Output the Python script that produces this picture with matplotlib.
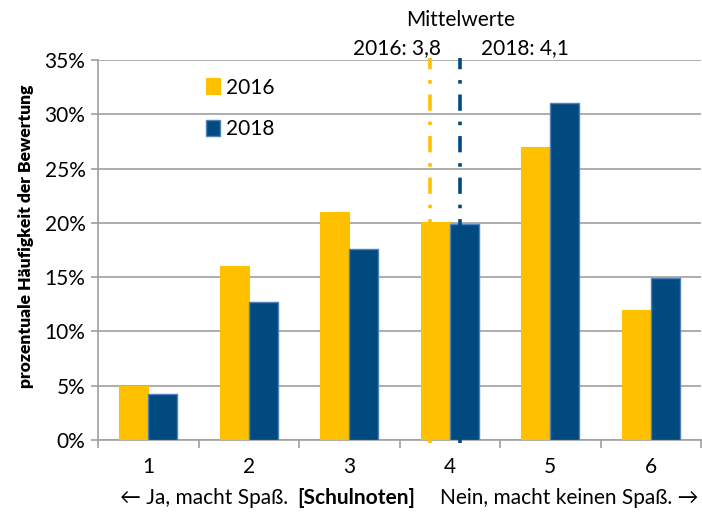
import numpy as np
import matplotlib
matplotlib.use("Agg")
import matplotlib.pyplot as plt

plt.rcParams['font.family'] = ['Lato', 'DejaVu Sans']

noten = [1, 2, 3, 4, 5, 6]
werte_2016 = [5.0, 16.0, 21.0, 20.1, 27.0, 12.0]
werte_2018 = [4.2, 12.7, 17.6, 19.9, 31.0, 14.9]
mittel_2016 = 3.8
mittel_2018 = 4.1
yticks = [0, 5, 10, 15, 20, 25, 30, 35]

gelb = '#FFC000'
blau = '#004A7F'
grau = '#A0A0A0'
fs = 15

fig = plt.figure(figsize=(7.02, 5.13), dpi=100)
ax = fig.add_axes([98/702, 1-440/513, 603/702, 380/513])

x = np.array(noten)
w = 0.29
ax.bar(x - w/2, werte_2016, w, color=gelb, edgecolor=gelb, linewidth=0.8, zorder=3, label='2016')
ax.bar(x + w/2, werte_2018, w, color=blau, edgecolor='#4F81BD', linewidth=1.0, zorder=3, label='2018')

# Mittelwert-Linien
ax.plot([mittel_2016, mittel_2016], [-0.3, 35.2], color=gelb, lw=2.6,
        dashes=(4.5, 3, 1, 3), zorder=4, clip_on=False)
ax.plot([mittel_2018, mittel_2018], [-0.3, 35.2], color=blau, lw=2.6,
        dashes=(4.5, 3, 1, 3), zorder=4, clip_on=False)

ax.set_xlim(0.5, 6.5)
ax.set_ylim(0, 35)
ax.set_yticks(yticks)
ax.set_yticklabels(['%d%%' % v for v in yticks], fontsize=fs)
ax.yaxis.grid(True, color=grau, lw=1.2, zorder=0)

ax.set_xticks(noten)
ax.set_xticklabels([str(n) for n in noten], fontsize=fs)
ax.tick_params(axis='x', length=0, pad=12)
ax.set_xticks(np.arange(0.5, 7, 1), minor=True)
ax.tick_params(axis='x', which='minor', length=6, color=grau, width=1.2)
ax.tick_params(axis='y', length=5, color=grau, width=1.2, pad=4)

for s in ['top', 'right']:
    ax.spines[s].set_visible(False)
for s in ['left', 'bottom']:
    ax.spines[s].set_color(grau)
    ax.spines[s].set_linewidth(1.2)

ax.set_ylabel('prozentuale Häufigkeit der Bewertung', fontsize=12.6, fontweight='heavy')
ax.yaxis.set_label_coords(-0.106, 0.535)

# Legende
ax.legend(loc='upper left', bbox_to_anchor=(0.148, 1.003), frameon=False, fontsize=fs,
          handlelength=0.65, handleheight=0.8, handletextpad=0.3, labelspacing=1.05)

# Texte oben
fig.text(461/702, 1-20/513, 'Mittelwerte', ha='center', va='center', fontsize=fs)
fig.text(441/702, 1-48/513, '2016: 3,8', ha='right', va='center', fontsize=fs)
fig.text(481/702, 1-48/513, '2018: 4,1', ha='left', va='center', fontsize=fs)

# Texte unten
fig.text(120/702, 1-498/513, '\u2190 Ja, macht Spaß.', ha='left', va='center', fontsize=fs)
fig.text(356/702, 1-498/513, '[Schulnoten]', ha='center', va='center', fontsize=fs, fontweight='bold')
fig.text(699/702, 1-498/513, 'Nein, macht keinen Spaß. \u2192', ha='right', va='center', fontsize=fs)

fig.savefig('out.png', dpi=100)
